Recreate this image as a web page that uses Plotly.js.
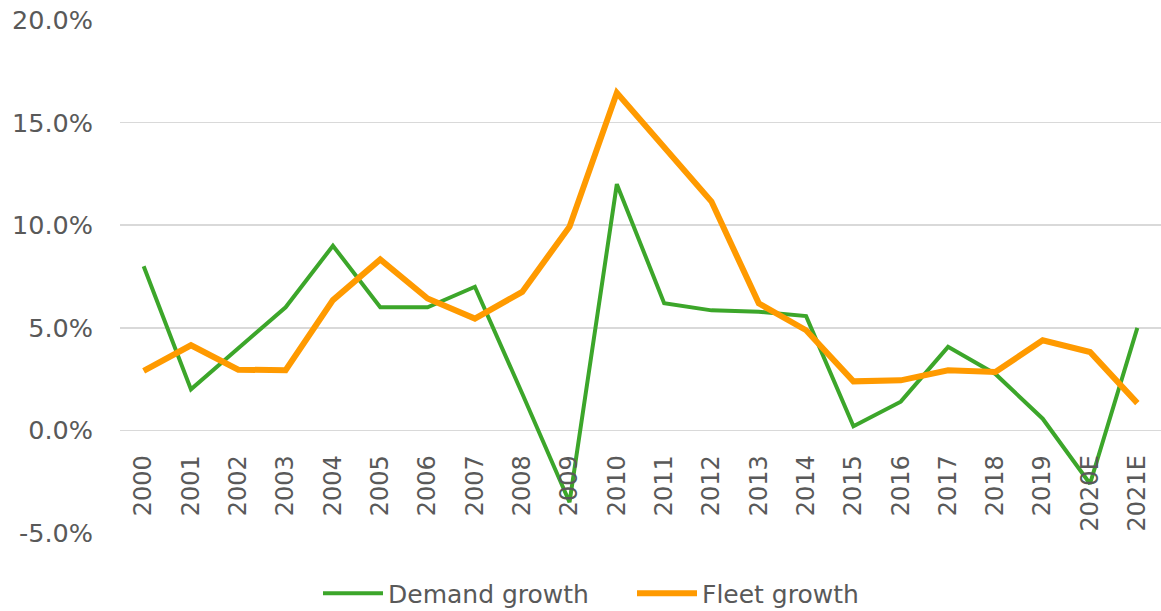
<!DOCTYPE html>
<html>
<head>
<meta charset="utf-8">
<script src="https://cdn.plot.ly/plotly-3.0.1.min.js"></script>
<style>html,body{margin:0;padding:0;background:#fff;}#chart{width:1161px;height:611px;}</style>
</head>
<body>
<div id="chart"></div>
<script>
const years = ['2000','2001','2002','2003','2004','2005','2006','2007','2008','2009','2010','2011','2012','2013','2014','2015','2016','2017','2018','2019','2020E','2021E'];
const demandGrowth = [8.0, 2.0, 4.0, 6.0, 9.0, 6.0, 6.0, 7.0, 1.8, -3.5, 12.0, 6.2, 5.85, 5.78, 5.57, 0.2, 1.4, 4.07, 2.75, 0.57, -2.6, 5.0];
const fleetGrowth = [2.9, 4.15, 2.96, 2.93, 6.35, 8.33, 6.43, 5.45, 6.75, 9.93, 16.45, 13.8, 11.15, 6.19, 4.88, 2.39, 2.44, 2.93, 2.85, 4.39, 3.82, 1.33];
const yTicks = [-5, 0, 5, 10, 15, 20];
const yTickText = ['-5.0%', '0.0%', '5.0%', '10.0%', '15.0%', '20.0%'];

const font = {family: 'DejaVu Sans, Verdana, sans-serif', size: 25, color: '#595959'};
const xFont = {family: 'DejaVu Sans, Verdana, sans-serif', size: 24, color: '#595959'};
const yFont = {family: 'DejaVu Sans, Verdana, sans-serif', size: 25.5, color: '#595959'};

const traces = [
  {x: years, y: demandGrowth, type: 'scatter', mode: 'lines', name: 'Demand growth',
   line: {color: '#3ca62a', width: 4}},
  {x: years, y: fleetGrowth, type: 'scatter', mode: 'lines', name: 'Fleet growth',
   line: {color: '#ff9a00', width: 6}}
];

const layout = {
  width: 1161, height: 611,
  margin: {l: 120, r: 0, t: 20, b: 78, autoexpand: false},
  paper_bgcolor: '#ffffff', plot_bgcolor: '#ffffff',
  font: font,
  showlegend: true,
  legend: {orientation: 'h', x: (318 - 120) / 1041, xanchor: 'left', y: -0.118, yanchor: 'middle',
           font: font, itemwidth: 60, entrywidth: 239, entrywidthmode: 'pixels', traceorder: 'normal'},
  xaxis: {type: 'category', range: [-0.5, 21.5], anchor: 'free', position: 0.2,
          tickangle: -90, showgrid: false, zeroline: false, showline: false,
          ticks: '', tickfont: xFont, ticklabelstandoff: 19, fixedrange: true, automargin: false},
  yaxis: {range: [-5, 20], tickvals: yTicks, ticktext: yTickText,
          showgrid: true, gridcolor: '#d9d9d9', gridwidth: 1.5,
          zeroline: false, showline: false, ticks: '', tickfont: yFont,
          ticklabelstandoff: 26, fixedrange: true, automargin: false}
};

Plotly.newPlot('chart', traces, layout, {displayModeBar: false, staticPlot: true});
</script>
</body>
</html>
